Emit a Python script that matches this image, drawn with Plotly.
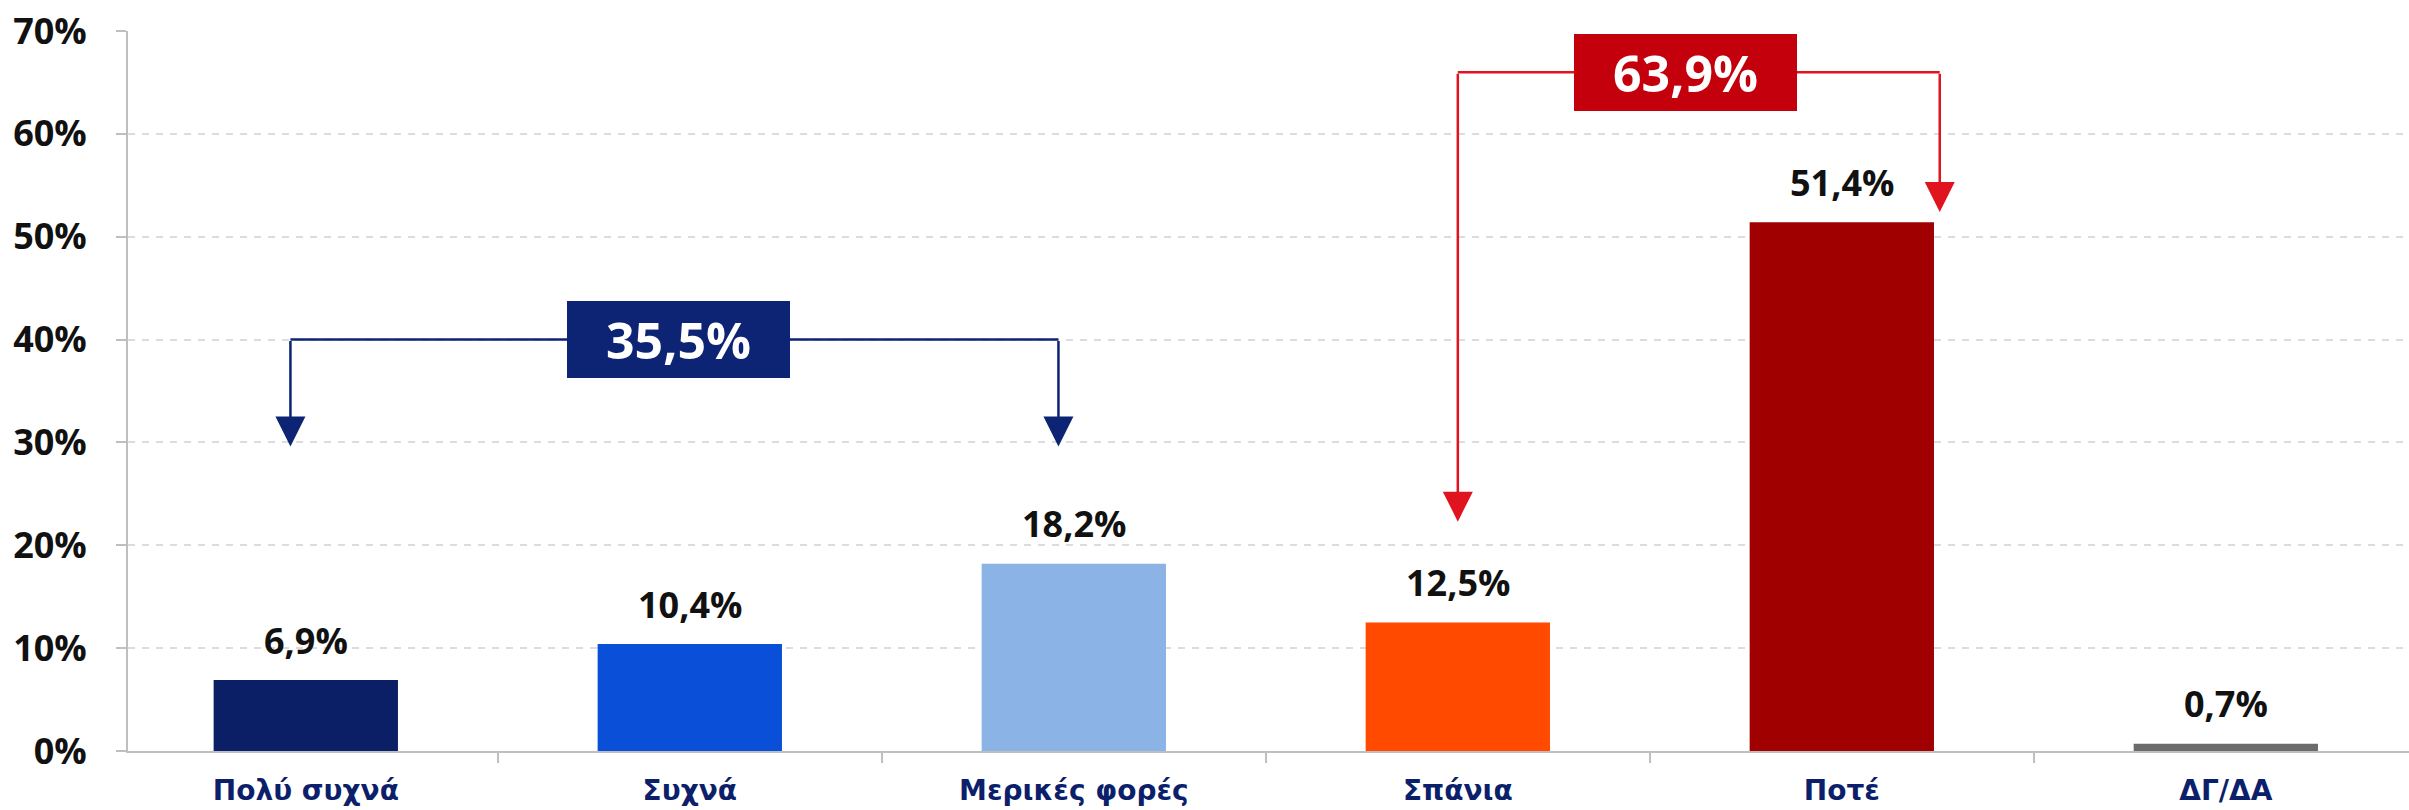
import plotly.graph_objects as go

# ---------------- data ----------------
categories = ["Πολύ συχνά", "Συχνά", "Μερικές φορές", "Σπάνια", "Ποτέ", "ΔΓ/ΔΑ"]
values = [6.9, 10.4, 18.2, 12.5, 51.4, 0.7]
bar_colors = ["#0b1f66", "#0a4fd8", "#8bb3e6", "#ff4a00", "#a00000", "#6b6b6b"]
y_ticks = [0, 10, 20, 30, 40, 50, 60, 70]
y_tick_labels = [f"{t}%" for t in y_ticks]

often_group = [0, 1, 2]   # Πολύ συχνά + Συχνά + Μερικές φορές
rare_group = [3, 4]       # Σπάνια + Ποτέ

FONT = "Open Sans"
CAT_FONT = "DejaVu Sans"
NAVY = "#0b1f6b"


def fmt(v):
    return f"{v:.1f}".replace(".", ",") + "%"


fig = go.Figure()
fig.add_trace(go.Bar(
    x=categories,
    y=values,
    marker=dict(color=bar_colors, line=dict(width=0)),
    width=0.48,
    hoverinfo="skip",
))

# value labels above bars
for i, v in enumerate(values):
    fig.add_annotation(
        x=i, y=v, xref="x", yref="y", text=fmt(v), showarrow=False,
        yshift=40, yanchor="middle",
        font=dict(family=FONT, size=36, color="#111111", weight="bold"),
    )


def bracket(idx, line_y, tips, offsets, color, box_color, box_shift):
    xl = idx[0] + offsets[0]
    xr = idx[-1] + offsets[1]
    total = sum(values[i] for i in idx)
    # horizontal connector
    fig.add_shape(type="line", xref="x", yref="y", x0=xl, x1=xr, y0=line_y, y1=line_y,
                  line=dict(color=color, width=2.5), layer="above")
    # vertical arrows
    for xx, ty in ((xl, tips[0]), (xr, tips[1])):
        fig.add_annotation(
            x=xx, y=ty, ax=xx, ay=line_y, xref="x", yref="y", axref="x", ayref="y",
            text="", showarrow=True, arrowhead=2, arrowsize=2.4, arrowwidth=2.5,
            arrowcolor=color, standoff=0, startstandoff=0,
        )
    # summary box
    fig.add_annotation(
        x=(xl + xr) / 2, y=line_y, xref="x", yref="y", text=fmt(total), showarrow=False,
        xshift=box_shift,
        bgcolor=box_color, bordercolor=box_color, borderwidth=1, borderpad=5,
        width=211, height=65, align="center", valign="middle",
        font=dict(family=FONT, size=50, color="white", weight="bold"),
    )


bracket(often_group, 40, (29.6, 29.6), (-0.04, -0.04), "#0d2474", "#0d2474", 4)
bracket(rare_group, 66, (22.3, 52.4), (0.0, 0.255), "#e0141e", "#c3000b", -13)

# small extension of the y axis line below the x axis
fig.add_shape(type="line", xref="paper", x0=0, x1=0, yref="y", ysizemode="pixel",
              yanchor=0, y0=0, y1=-11, line=dict(color="#bfbfbf", width=2))

fig.update_layout(
    width=2409, height=810,
    margin=dict(l=128, r=0, t=31, b=59),
    paper_bgcolor="white", plot_bgcolor="white",
    showlegend=False,
    xaxis=dict(
        type="category", categoryorder="array", categoryarray=categories,
        range=[-0.463, 5.477], automargin=False,
        tickson="boundaries", ticks="outside", ticklen=10, tickwidth=2, tickcolor="#bfbfbf",
        showline=True, linecolor="#bfbfbf", linewidth=2,
        showgrid=False, zeroline=False,
        ticklabelstandoff=13,
        tickfont=dict(family=CAT_FONT, size=28, color=NAVY, weight="bold"),
    ),
    yaxis=dict(
        range=[0, 70], automargin=False,
        tickmode="array", tickvals=y_ticks, ticktext=y_tick_labels,
        ticks="outside", ticklen=10, tickwidth=2, tickcolor="#bfbfbf",
        showline=True, linecolor="#bfbfbf", linewidth=2,
        showgrid=True, gridcolor="#dcdcdc", gridwidth=1.5, griddash="7px,7px",
        zeroline=False,
        ticklabelstandoff=22,
        tickfont=dict(family=FONT, size=36, color="#111111", weight="bold"),
    ),
)

fig.write_html("out.html", config={"displayModeBar": False},
               post_script="document.body.style.margin='0';")
